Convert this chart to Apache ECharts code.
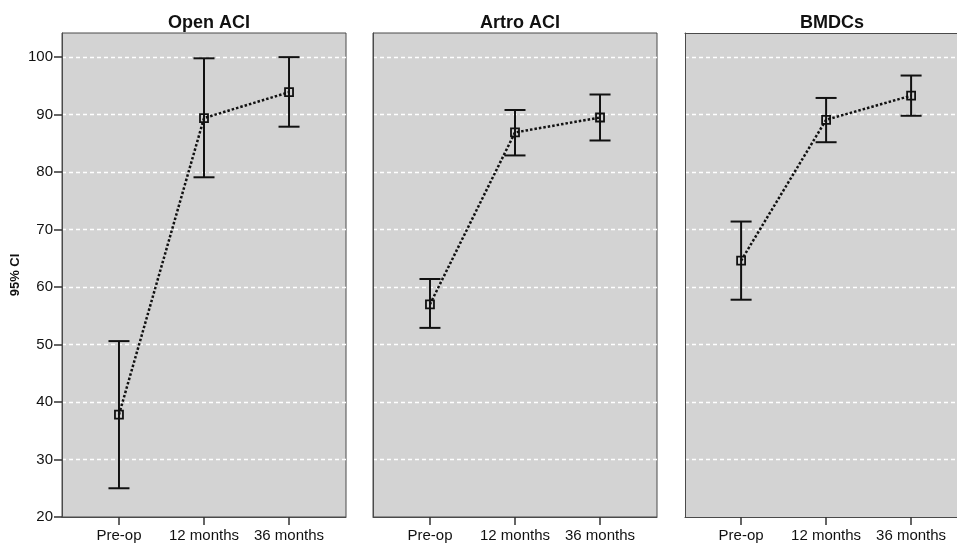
<!DOCTYPE html>
<html><head><meta charset="utf-8">
<script src="https://cdn.jsdelivr.net/npm/echarts@6/dist/echarts.min.js"></script>
<style>html,body{margin:0;padding:0;background:#fff}#c{width:957px;height:547px}</style>
</head><body><div id="c"></div>
<script>
const categories = ['Pre-op', '12 months', '36 months'];
const panelTitles = ['Open ACI', 'Artro ACI', 'BMDCs'];
const yTicks = [20, 30, 40, 50, 60, 70, 80, 90, 100];
const openMean = [37.8, 89.4, 93.9];
const openLow  = [25.0, 79.1, 87.9];
const openHigh = [50.6, 99.8, 100.0];
const artroMean = [57.0, 86.9, 89.5];
const artroLow  = [52.9, 82.9, 85.5];
const artroHigh = [61.4, 90.8, 93.5];
const bmdcMean = [64.6, 89.1, 93.3];
const bmdcLow  = [57.8, 85.2, 89.8];
const bmdcHigh = [71.4, 92.9, 96.8];

const means = [openMean, artroMean, bmdcMean];
const lows = [openLow, artroLow, bmdcLow];
const highs = [openHigh, artroHigh, bmdcHigh];

const font = 'Liberation Sans, Arial, sans-serif';
const lefts = [62, 373, 685];
const widths = [284, 284, 272];
const xMins = [-0.67, -0.67, -0.66];
const xMaxs = [2.67, 2.67, 2.54];
const TOP = 33, H = 484;
const catIdx = categories.map((c, i) => i);
const frame = '#4a4a4a';

const grids = [], xAxes = [], yAxes = [], series = [], titles = [];
for (let p = 0; p < 3; p++) {
  const last = p === 2;
  grids.push({left: lefts[p], top: TOP, width: widths[p], height: H, show: true,
    backgroundColor: '#d3d3d3', borderColor: frame, borderWidth: last ? 0 : 1});
  titles.push({text: panelTitles[p], left: lefts[p] + 142, top: 9, textAlign: 'center',
    textStyle: {fontFamily: font, fontSize: 18, fontWeight: 'bold', color: '#111'}});
  xAxes.push({type: 'value', gridIndex: p, min: xMins[p], max: xMaxs[p],
    axisLine: {show: true, onZero: false, lineStyle: {color: frame, width: 1}},
    axisTick: {show: true, length: 8, lineStyle: {color: '#333', width: 1.5}, customValues: catIdx},
    axisLabel: {fontFamily: font, fontSize: 15, color: '#111', margin: 11, customValues: catIdx,
      formatter: v => categories[Math.round(v)] || ''},
    splitLine: {show: false}});
  yAxes.push({type: 'value', gridIndex: p, min: 20, max: 104.2, interval: 10,
    name: p === 0 ? '95% CI' : '', nameLocation: 'middle', nameGap: 40,
    nameTextStyle: {fontFamily: font, fontSize: 13, fontWeight: 'bold', color: '#111'},
    axisLine: {show: true, onZero: false, lineStyle: {color: frame, width: 1}},
    axisTick: {show: p === 0, length: 8, lineStyle: {color: '#333', width: 1.5}, customValues: yTicks},
    axisLabel: {show: p === 0, fontFamily: font, fontSize: 15, color: '#111', margin: 9, customValues: yTicks},
    splitLine: {show: true, showMinLine: false, showMaxLine: true,
      lineStyle: {color: '#ffffff', type: [4, 3], width: 1.3}}});
  const errData = categories.map((c, i) => [i, lows[p][i], highs[p][i]]);
  series.push({type: 'custom', xAxisIndex: p, yAxisIndex: p, z: 3,
    data: errData, encode: {x: 0, y: [1, 2]},
    renderItem: function (params, api) {
      const x = api.value(0);
      const pHi = api.coord([x, api.value(2)]);
      const pLo = api.coord([x, api.value(1)]);
      const hw = 10.5;
      const st = {stroke: '#111', lineWidth: 2};
      return {type: 'group', children: [
        {type: 'line', shape: {x1: pHi[0], y1: pHi[1], x2: pLo[0], y2: pLo[1]}, style: st},
        {type: 'line', shape: {x1: pHi[0] - hw, y1: pHi[1], x2: pHi[0] + hw, y2: pHi[1]}, style: st},
        {type: 'line', shape: {x1: pLo[0] - hw, y1: pLo[1], x2: pLo[0] + hw, y2: pLo[1]}, style: st}
      ]};
    }});
  series.push({type: 'line', xAxisIndex: p, yAxisIndex: p, z: 5,
    data: means[p].map((m, i) => [i, m]),
    symbol: 'rect', symbolSize: 8,
    lineStyle: {color: '#111', width: 2.5, type: [2.5, 2]},
    itemStyle: {color: 'rgba(211,211,211,0)', borderColor: '#111', borderWidth: 1.8},
    animation: false});
}
// top frame line for the last (clipped) panel
xAxes.push({type: 'value', gridIndex: 2, position: 'top', min: xMins[2], max: xMaxs[2],
  axisLine: {show: true, onZero: false, lineStyle: {color: frame, width: 1}},
  axisTick: {show: false}, axisLabel: {show: false}, splitLine: {show: false}});

const chart = echarts.init(document.getElementById('c'), null, {renderer: 'canvas'});
chart.setOption({
  animation: false,
  backgroundColor: '#ffffff',
  title: titles,
  grid: grids,
  xAxis: xAxes,
  yAxis: yAxes,
  series: series
});
</script></body></html>
